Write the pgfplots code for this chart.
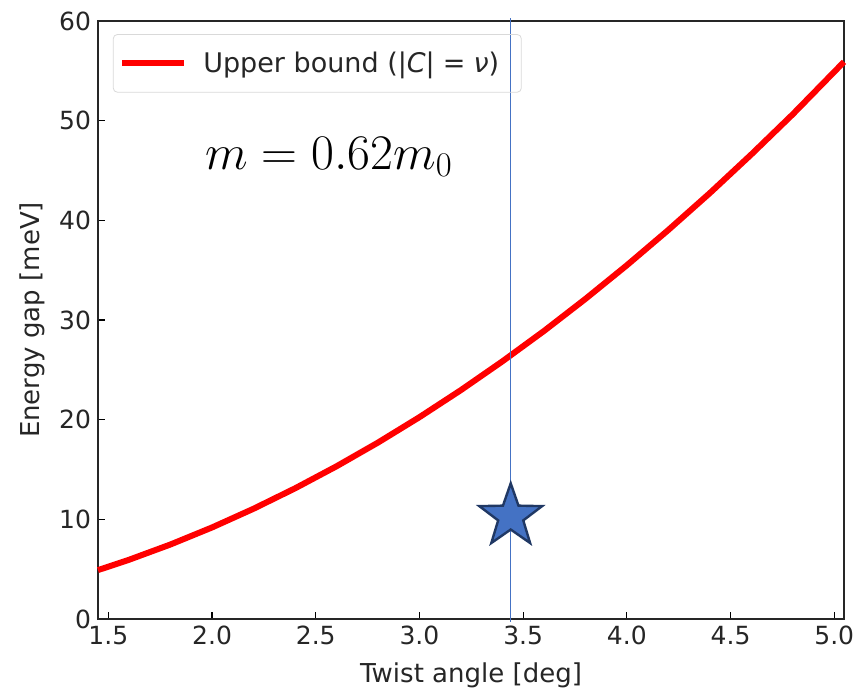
\documentclass[border=0pt]{standalone}
\usepackage{pgfplots}
\pgfplotsset{compat=1.18}
\usepackage{fontspec}
\setmainfont{DejaVu Sans}
\definecolor{starfill}{RGB}{68,114,196}
\definecolor{staredge}{RGB}{32,56,100}
\definecolor{lineblue}{RGB}{68,114,196}
\definecolor{txt}{RGB}{38,38,38}
\pgfdeclareplotmark{fstar}{%
  \pgfpathmoveto{\pgfpointpolar{90}{\pgfplotmarksize}}%
  \pgfpathlineto{\pgfpointpolar{126}{0.4\pgfplotmarksize}}%
  \pgfpathlineto{\pgfpointpolar{162}{\pgfplotmarksize}}%
  \pgfpathlineto{\pgfpointpolar{198}{0.4\pgfplotmarksize}}%
  \pgfpathlineto{\pgfpointpolar{234}{\pgfplotmarksize}}%
  \pgfpathlineto{\pgfpointpolar{270}{0.4\pgfplotmarksize}}%
  \pgfpathlineto{\pgfpointpolar{306}{\pgfplotmarksize}}%
  \pgfpathlineto{\pgfpointpolar{342}{0.4\pgfplotmarksize}}%
  \pgfpathlineto{\pgfpointpolar{18}{\pgfplotmarksize}}%
  \pgfpathlineto{\pgfpointpolar{54}{0.4\pgfplotmarksize}}%
  \pgfpathclose
  \pgfusepathqfillstroke
}
\begin{document}
\begin{tikzpicture}
\begin{axis}[
  scale only axis, width=373pt, height=299pt,
  xmin=1.45, xmax=5.047, ymin=0, ymax=60,
  xtick={1.5,2.0,2.5,3.0,3.5,4.0,4.5,5.0},
  ytick={0,10,20,30,40,50,60},
  xticklabel style={/pgf/number format/.cd, fixed, fixed zerofill, precision=1},
  /pgf/number format/assume math mode=true,
  tick align=inside, xtick pos=bottom, ytick pos=left,
  major tick length=3.5pt,
  tick style={black, line width=0.6pt},
  axis line style={black!85, line width=0.75pt},
  tick label style={font=\fontsize{12.5}{15}\selectfont, text=txt},
  label style={font=\fontsize{13}{15}\selectfont, text=txt},
  xlabel={Twist angle [deg]}, ylabel={Energy gap [meV]},
  xlabel style={yshift=-2pt},
  clip=false,
  legend cell align=left,
  legend style={at={(0.02,0.978)}, anchor=north west, draw=black!15, rounded corners=2pt,
    fill=none, font=\fontsize{13.5}{16}\selectfont, text=txt, inner xsep=3pt, inner ysep=6.5pt},
  legend image code/.code={\draw[#1] (0pt,0pt) -- (31pt,0pt); \path (37pt,0pt);},
]
\addplot[red, line width=3pt] coordinates {
(1.45,4.906) (1.6,5.944) (1.8,7.479) (2.0,9.184) (2.2,11.061) (2.4,13.106)
(2.6,15.319) (2.8,17.700) (3.0,20.250) (3.2,22.967) (3.4,25.85) (3.6,28.89)
(3.8,32.11) (4.0,35.49) (4.2,39.03) (4.4,42.73) (4.6,46.61) (4.8,50.64) (5.047,55.9)
};
\addlegendentry{Upper bound (|{\itshape C}|\hspace{0.3em}=\hspace{0.3em}{\itshape ν})\hspace*{6pt}\mbox{}}
\addplot[only marks, mark=fstar, mark size=16.5pt, forget plot,
  mark options={fill=starfill, draw=staredge, line width=1.2pt}] coordinates {(3.44,10.3)};
\addplot[color=lineblue, line width=0.7pt, forget plot] coordinates {(3.44,-0.3) (3.44,60.3)};
\node[anchor=base west, font=\fontsize{25.5}{29}\selectfont, inner sep=0pt] at (axis cs:1.965,45.1) {$m = 0.62m_0$};
\coordinate (bl) at (rel axis cs:0,0);
\coordinate (tr) at (rel axis cs:1,1);
\end{axis}
\pgfresetboundingbox
\path[use as bounding box] ([xshift=-49pt,yshift=-35.5pt]bl) rectangle ([xshift=6pt,yshift=10.5pt]tr);
\end{tikzpicture}
\end{document}
